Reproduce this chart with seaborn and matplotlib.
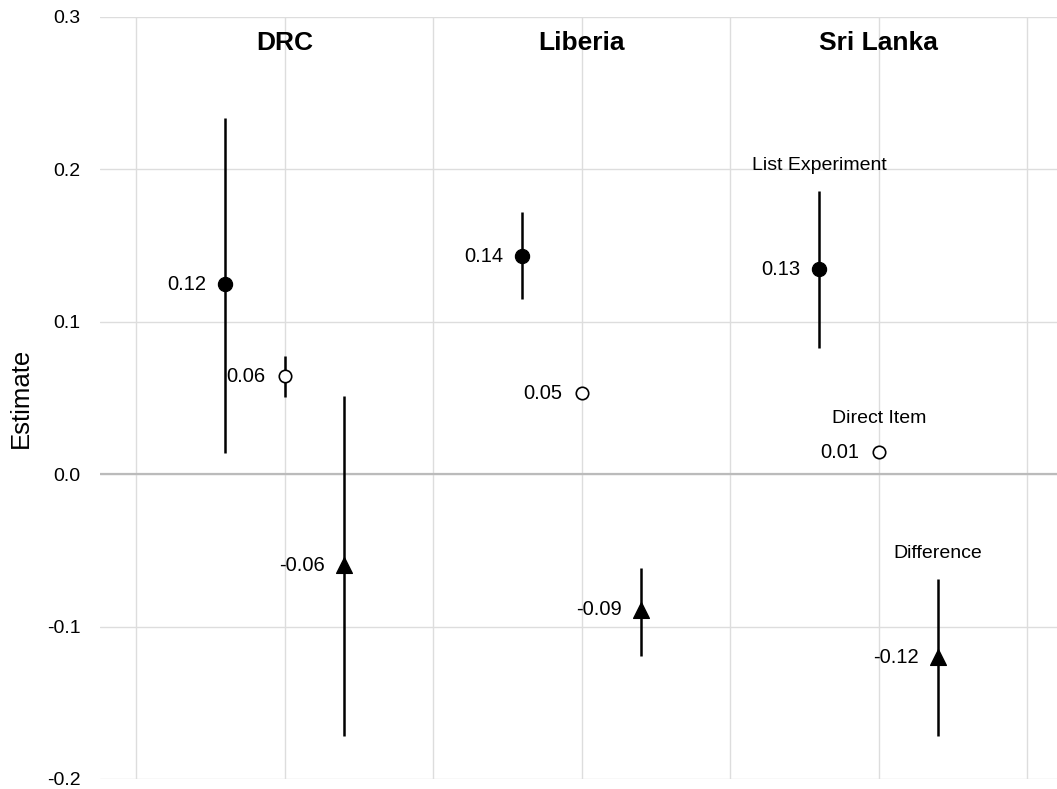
import numpy as np
import pandas as pd
import matplotlib
matplotlib.use("Agg")
import matplotlib.pyplot as plt
import seaborn as sns

# ----- data -----
countries = ["DRC", "Liberia", "Sri Lanka"]
estimate_types = ["List Experiment", "Direct Item", "Difference"]

list_est = [0.1247, 0.1430, 0.1345]
list_lo = [0.0138, 0.1150, 0.0830]
list_hi = [0.2340, 0.1720, 0.1860]

direct_est = [0.0643, 0.0530, 0.0144]
direct_lo = [0.0505, 0.0510, 0.0124]
direct_hi = [0.0774, 0.0550, 0.0164]

diff_est = [-0.0597, -0.0890, -0.1200]
diff_lo = [-0.1720, -0.1190, -0.1720]
diff_hi = [0.0512, -0.0617, -0.0690]

offsets = {"List Experiment": -0.2, "Direct Item": 0.0, "Difference": 0.2}

rows = []
for i, c in enumerate(countries):
    for t, est, lo, hi in [("List Experiment", list_est, list_lo, list_hi),
                           ("Direct Item", direct_est, direct_lo, direct_hi),
                           ("Difference", diff_est, diff_lo, diff_hi)]:
        rows.append({"country": c, "type": t, "pos": i + 1 + offsets[t],
                     "est": est[i], "lo": lo[i], "hi": hi[i]})
df = pd.DataFrame(rows)

sns.set_theme(style="whitegrid")
plt.rcParams['font.family'] = ['Liberation Sans', 'DejaVu Sans']
plt.rcParams['axes.unicode_minus'] = False
plt.rcParams['text.color'] = 'black'
plt.rcParams['axes.labelcolor'] = 'black'
plt.rcParams['ytick.color'] = 'black'

fig = plt.figure(figsize=(10.57, 7.89), dpi=100)
ax = fig.add_axes([0.0946, 0.0127, 0.9054, 0.9658])

# confidence intervals
ax.vlines(df["pos"], df["lo"], df["hi"], color="black", linewidth=1.8, zorder=3)

styles = {
    "List Experiment": dict(marker="o", s=105, color="black", edgecolor="black"),
    "Direct Item": dict(marker="o", s=80, color="white", edgecolor="black", linewidth=1.2),
    "Difference": dict(marker="^", s=130, color="black", edgecolor="black"),
}
for t in estimate_types:
    sub = df[df["type"] == t]
    sns.scatterplot(data=sub, x="pos", y="est", ax=ax, zorder=4, legend=False, **styles[t])

# value labels
for _, r in df.iterrows():
    ax.annotate(f"{r['est']:.2f}", (r["pos"], r["est"]), xytext=(-14, 0),
                textcoords="offset points", ha="right", va="center", fontsize=14.5)

# country titles
for i, c in enumerate(countries):
    ax.text(i + 1, 0.283, c, ha="center", va="center", fontsize=19, fontweight="bold")

# series annotations next to Sri Lanka
ax.text(3 - 0.2, 0.2025, "List Experiment", ha="center", va="center", fontsize=14)
ax.text(3.0, 0.0367, "Direct Item", ha="center", va="center", fontsize=14)
ax.text(3 + 0.2, -0.052, "Difference", ha="center", va="center", fontsize=14)

ax.axhline(0, color="#bbbbbb", linewidth=1.6, zorder=1)

ax.set_xlim(0.378, 3.6)
ax.set_ylim(-0.2, 0.3)
ax.set_xticks(np.arange(0.5, 3.75, 0.5))
ax.set_xticklabels([])
ax.set_yticks(np.arange(-0.2, 0.31, 0.1))
ax.set_yticklabels([f"{v:.1f}" for v in np.arange(-0.2, 0.31, 0.1)], fontsize=14)
ax.tick_params(axis="both", length=0, pad=14)
ax.grid(True, color="#dddddd", linewidth=1.0)
ax.set_xlabel("")
ax.set_ylabel("Estimate", fontsize=18.5, labelpad=10)
for s in ax.spines.values():
    s.set_visible(False)

fig.savefig("out.png", dpi=100)
